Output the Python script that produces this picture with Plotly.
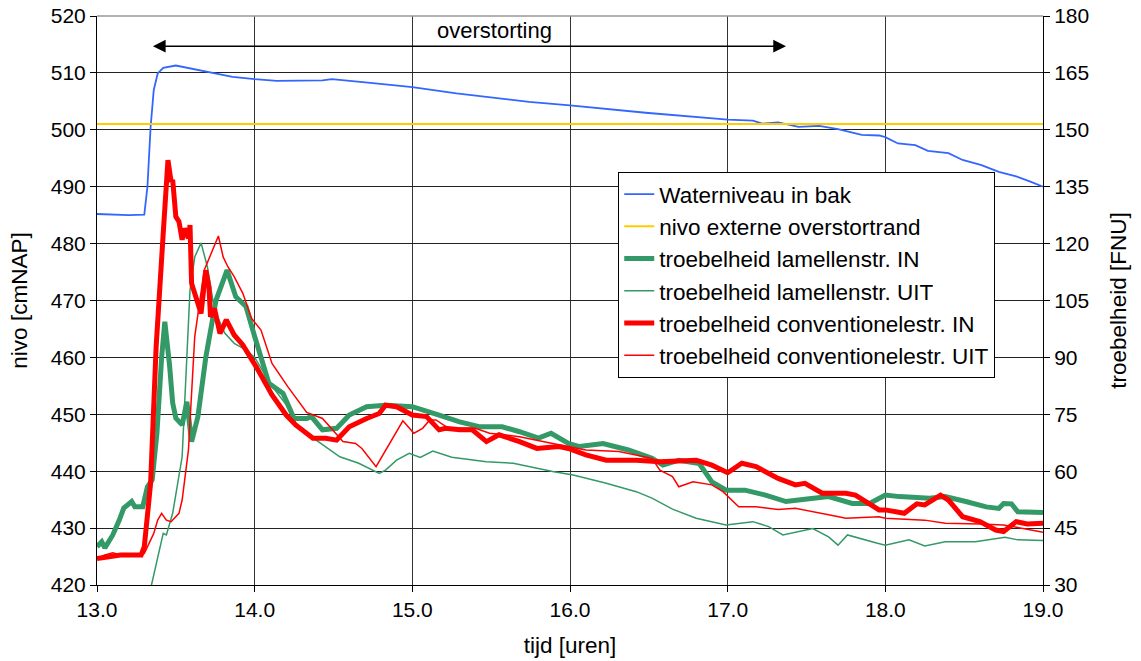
import plotly.graph_objects as go

# ---------------- data ----------------
t_water = [13.0, 13.1, 13.2, 13.3, 13.32, 13.34, 13.36, 13.385, 13.42, 13.5, 13.59, 13.67, 13.755, 13.86,
           14.0, 14.14, 14.43, 14.49, 14.75, 15.0, 15.28, 15.49, 15.74, 16.0, 16.48, 17.0, 17.16, 17.22,
           17.32, 17.45, 17.58, 17.70, 17.85, 17.96, 18.0, 18.08, 18.19, 18.27, 18.40, 18.49, 18.61,
           18.72, 18.83, 18.92, 19.0]
waterniveau = [485.2, 485.1, 485.0, 485.1, 490.0, 500.5, 507.0, 509.9, 510.9, 511.3, 510.8, 510.3, 509.8, 509.3,
               508.9, 508.6, 508.7, 508.9, 508.2, 507.5, 506.4, 505.7, 504.9, 504.3, 503.0, 501.8, 501.6, 501.1,
               501.3, 500.5, 500.7, 500.1, 499.1, 499.0, 498.7, 497.6, 497.3, 496.3, 495.9, 494.7, 493.8,
               492.6, 491.8, 490.9, 490.0]

t_rand = [13.0, 19.0]
overstortrand = [501.0, 501.0]

t_lam_in = [13.0, 13.03, 13.05, 13.10, 13.14, 13.17, 13.22, 13.24, 13.29, 13.32, 13.35, 13.38, 13.41, 13.43,
            13.46, 13.48, 13.50, 13.54, 13.57, 13.60, 13.64, 13.66, 13.69, 13.755, 13.825, 13.88, 13.945,
            14.0, 14.03, 14.09, 14.18, 14.25, 14.33, 14.36, 14.43, 14.52, 14.60, 14.71, 14.83, 15.0, 15.17,
            15.30, 15.43, 15.57, 15.68, 15.80, 15.88, 15.99, 16.06, 16.21, 16.37, 16.52, 16.59, 16.69,
            16.82, 16.90, 16.99, 17.11, 17.24, 17.37, 17.49, 17.64, 17.79, 17.90, 18.0, 18.09, 18.28,
            18.38, 18.51, 18.64, 18.72, 18.75, 18.80, 18.84, 19.0]
lam_in = [40.1, 41.4, 39.8, 43.2, 47.0, 50.3, 52.0, 50.6, 50.6, 55.9, 57.7, 70.0, 90.0, 99.4,
          88.0, 78.0, 74.0, 72.2, 78.3, 67.8, 74.4, 80.0, 90.0, 105.1, 113.0, 106.0, 103.4,
          95.5, 91.2, 83.2, 80.5, 73.9, 73.9, 74.4, 70.9, 71.3, 74.8, 77.0, 77.4, 77.0, 74.8,
          73.0, 71.7, 71.7, 70.4, 68.7, 70.0, 67.3, 66.5, 67.3, 65.6, 63.4, 61.6, 62.9,
          62.0, 57.2, 55.0, 55.0, 53.7, 52.0, 52.6, 53.3, 51.5, 51.5, 53.7, 53.3, 52.9,
          53.3, 52.0, 50.6, 50.2, 51.5, 51.4, 49.3, 49.1]

t_lam_uit = [13.34, 13.42, 13.44, 13.48, 13.54, 13.59, 13.62, 13.66, 13.70, 13.745, 13.81, 13.87, 13.945,
             14.0, 14.1, 14.2, 14.26, 14.39, 14.54, 14.66, 14.79, 14.83, 14.90, 14.98, 15.05, 15.13,
             15.25, 15.47, 15.64, 15.76, 15.89, 16.02, 16.23, 16.42, 16.52, 16.65, 16.80, 16.99, 17.16,
             17.26, 17.35, 17.54, 17.64, 17.70, 17.76, 17.95, 18.0, 18.15, 18.25, 18.38, 18.57, 18.76,
             18.84, 19.0]
lam_uit = [29.0, 43.6, 43.2, 48.9, 63.8, 107.8, 116.5, 120.2, 113.9, 102.5, 96.4, 93.7, 92.0,
           90.0, 83.0, 77.5, 72.7, 68.2, 63.8, 62.1, 59.4, 60.3, 62.9, 64.7, 63.6, 65.3,
           63.7, 62.5, 62.1, 61.0, 59.9, 59.0, 56.8, 54.6, 52.9, 50.0, 47.6, 45.8, 46.7,
           45.4, 43.2, 44.9, 42.7, 40.5, 43.2, 41.0, 40.5, 41.9, 40.3, 41.4, 41.4, 42.6,
           41.9, 41.7]

t_conv_in = [13.0, 13.05, 13.15, 13.28, 13.30, 13.34, 13.375, 13.42, 13.45, 13.47, 13.48, 13.50, 13.52,
             13.54, 13.555, 13.58, 13.59, 13.60, 13.63, 13.66, 13.69, 13.71, 13.72, 13.745, 13.78, 13.82,
             13.87, 13.925, 14.01, 14.11, 14.20, 14.26, 14.37, 14.45, 14.52, 14.60, 14.71, 14.79, 14.83,
             14.90, 15.0, 15.09, 15.17, 15.21, 15.30, 15.38, 15.47, 15.55, 15.68, 15.79, 15.93, 15.99,
             16.10, 16.23, 16.42, 16.57, 16.80, 16.90, 17.0, 17.09, 17.18, 17.32, 17.43, 17.49, 17.60,
             17.75, 17.81, 17.96, 18.0, 18.09, 18.12, 18.20, 18.25, 18.35, 18.40, 18.49, 18.60, 18.70,
             18.75, 18.83, 18.90, 19.0]
conv_in = [37.0, 37.3, 37.9, 37.9, 40.1, 56.8, 92.8, 122.7, 142.0, 136.3, 136.8, 127.1, 125.8,
           121.0, 124.0, 121.4, 124.9, 109.5, 105.1, 101.6, 113.0, 108.6, 100.7, 102.9, 96.3, 99.9,
           95.9, 93.3, 87.5, 80.1, 74.8, 72.2, 68.7, 68.7, 68.2, 71.7, 73.9, 75.2, 77.4,
           77.0, 74.8, 74.4, 70.9, 71.3, 70.9, 70.9, 67.8, 69.6, 67.8, 66.0, 66.5, 66.0,
           64.3, 62.9, 62.9, 62.5, 62.9, 61.6, 59.6, 62.1, 61.2, 58.1, 56.4, 56.8, 54.2,
           54.2, 53.7, 49.8, 49.8, 49.3, 48.9, 51.4, 51.1, 53.7, 52.4, 48.0, 46.7, 44.5,
           44.1, 46.7, 46.1, 46.3]

t_conv_uit = [13.0, 13.05, 13.1, 13.15, 13.2, 13.30, 13.36, 13.385, 13.41, 13.44, 13.47, 13.52, 13.54,
              13.58, 13.62, 13.68, 13.77, 13.80, 13.83, 13.87, 13.925, 13.98, 14.04, 14.11, 14.21, 14.33,
              14.43, 14.56, 14.64, 14.68, 14.77, 14.855, 14.94, 15.01, 15.065, 15.11, 15.15, 15.23, 15.40,
              15.49, 15.68, 15.89, 16.10, 16.31, 16.52, 16.57, 16.65, 16.69, 16.78, 16.90, 16.97, 17.07,
              17.18, 17.32, 17.43, 17.64, 17.75, 17.96, 18.0, 18.25, 18.38, 18.60, 18.75, 18.90, 19.0]
conv_uit = [37.0, 37.9, 38.5, 37.9, 38.2, 38.3, 43.6, 47.1, 48.9, 47.1, 46.7, 48.9, 52.4,
            65.6, 95.5, 113.0, 122.0, 116.5, 113.9, 111.3, 106.9, 100.3, 97.2, 88.4, 82.3, 75.5,
            73.9, 67.8, 67.3, 66.0, 61.2, 67.3, 73.3, 70.0, 71.3, 73.5, 73.5, 71.3, 71.3,
            70.0, 69.1, 67.3, 65.6, 65.2, 63.4, 60.3, 58.6, 55.9, 57.2, 56.4, 54.6, 50.6,
            50.6, 49.9, 50.2, 48.5, 47.6, 48.0, 47.6, 47.1, 46.3, 46.1, 45.8, 44.7, 43.9]

x_ticks = [13.0, 14.0, 15.0, 16.0, 17.0, 18.0, 19.0]
arrow_span = [13.345, 17.37]
arrow_level = 514.7
label_pos = [15.52, 517.4]

FONT = "Arial, Liberation Sans, sans-serif"

fig = go.Figure()
series = [
    (t_water, waterniveau, "Waterniveau in bak", "#3366FF", 1.8, "y"),
    (t_rand, overstortrand, "nivo externe overstortrand", "#FFCC00", 2, "y"),
    (t_lam_in, lam_in, "troebelheid lamellenstr. IN", "#339966", 5, "y2"),
    (t_lam_uit, lam_uit, "troebelheid lamellenstr. UIT", "#339966", 1.5, "y2"),
    (t_conv_in, conv_in, "troebelheid conventionelestr. IN", "#FF0000", 5, "y2"),
    (t_conv_uit, conv_uit, "troebelheid conventionelestr. UIT", "#FF0000", 1.5, "y2"),
]
for i, (tx, vy, name, col, w, ax) in enumerate(series):
    fig.add_trace(go.Scatter(x=tx, y=vy, name=name, mode="lines", yaxis=ax,
                             line=dict(color=col, width=w), legendgroup=str(i)))

fig.add_annotation(x=arrow_span[1], y=arrow_level, ax=arrow_span[0], ay=arrow_level,
                   xref="x", yref="y", axref="x", ayref="y", text="", showarrow=True,
                   arrowside="end+start", arrowhead=2, arrowsize=1.7, arrowwidth=1.5,
                   arrowcolor="black")
fig.add_annotation(x=label_pos[0], y=label_pos[1], xref="x", yref="y", text="overstorting",
                   showarrow=False, font=dict(size=22, color="black", family=FONT))

# top border (grey)
fig.add_shape(type="line", xref="paper", yref="paper", x0=0, x1=1, y0=1, y1=1,
              line=dict(color="#999999", width=1.5))

tick_font = dict(size=21, color="black", family=FONT)
title_font = dict(size=22.5, color="black", family=FONT)
fig.update_layout(
    width=1141, height=661,
    margin=dict(l=97, r=98, t=16, b=76, autoexpand=False),
    plot_bgcolor="white", paper_bgcolor="white",
    font=dict(family=FONT, color="black", size=21),
    showlegend=True,
    legend=dict(x=0.551, y=0.726, xanchor="left", yanchor="top",
                bgcolor="white", bordercolor="black", borderwidth=1,
                font=dict(size=22.5, family=FONT, color="black"),
                traceorder="grouped", tracegroupgap=0),
    xaxis=dict(range=[13, 19], tickvals=x_ticks, tickformat=".1f", automargin=False,
               showgrid=True, gridcolor="#333333", gridwidth=1,
               showline=True, linecolor="black", linewidth=1,
               ticks="outside", ticklen=6, tickcolor="black",
               tickfont=tick_font, zeroline=False,
               title=dict(text="tijd [uren]", font=title_font, standoff=17)),
    yaxis=dict(range=[420, 520], dtick=10, showgrid=True, gridcolor="#222222", gridwidth=1,
               showline=True, linecolor="black", linewidth=1, automargin=False,
               ticks="outside", ticklen=6, tickcolor="black",
               tickfont=tick_font, zeroline=False,
               title=dict(text="nivo [cmNAP]", font=title_font, standoff=16)),
    yaxis2=dict(range=[30, 180], dtick=15, overlaying="y", side="right", showgrid=False,
                showline=True, linecolor="black", linewidth=1, automargin=False,
                ticks="outside", ticklen=6, tickcolor="black",
                tickfont=tick_font, zeroline=False,
                title=dict(text="troebelheid [FNU]", font=title_font, standoff=22)),
)

fig.write_html("out.html")
